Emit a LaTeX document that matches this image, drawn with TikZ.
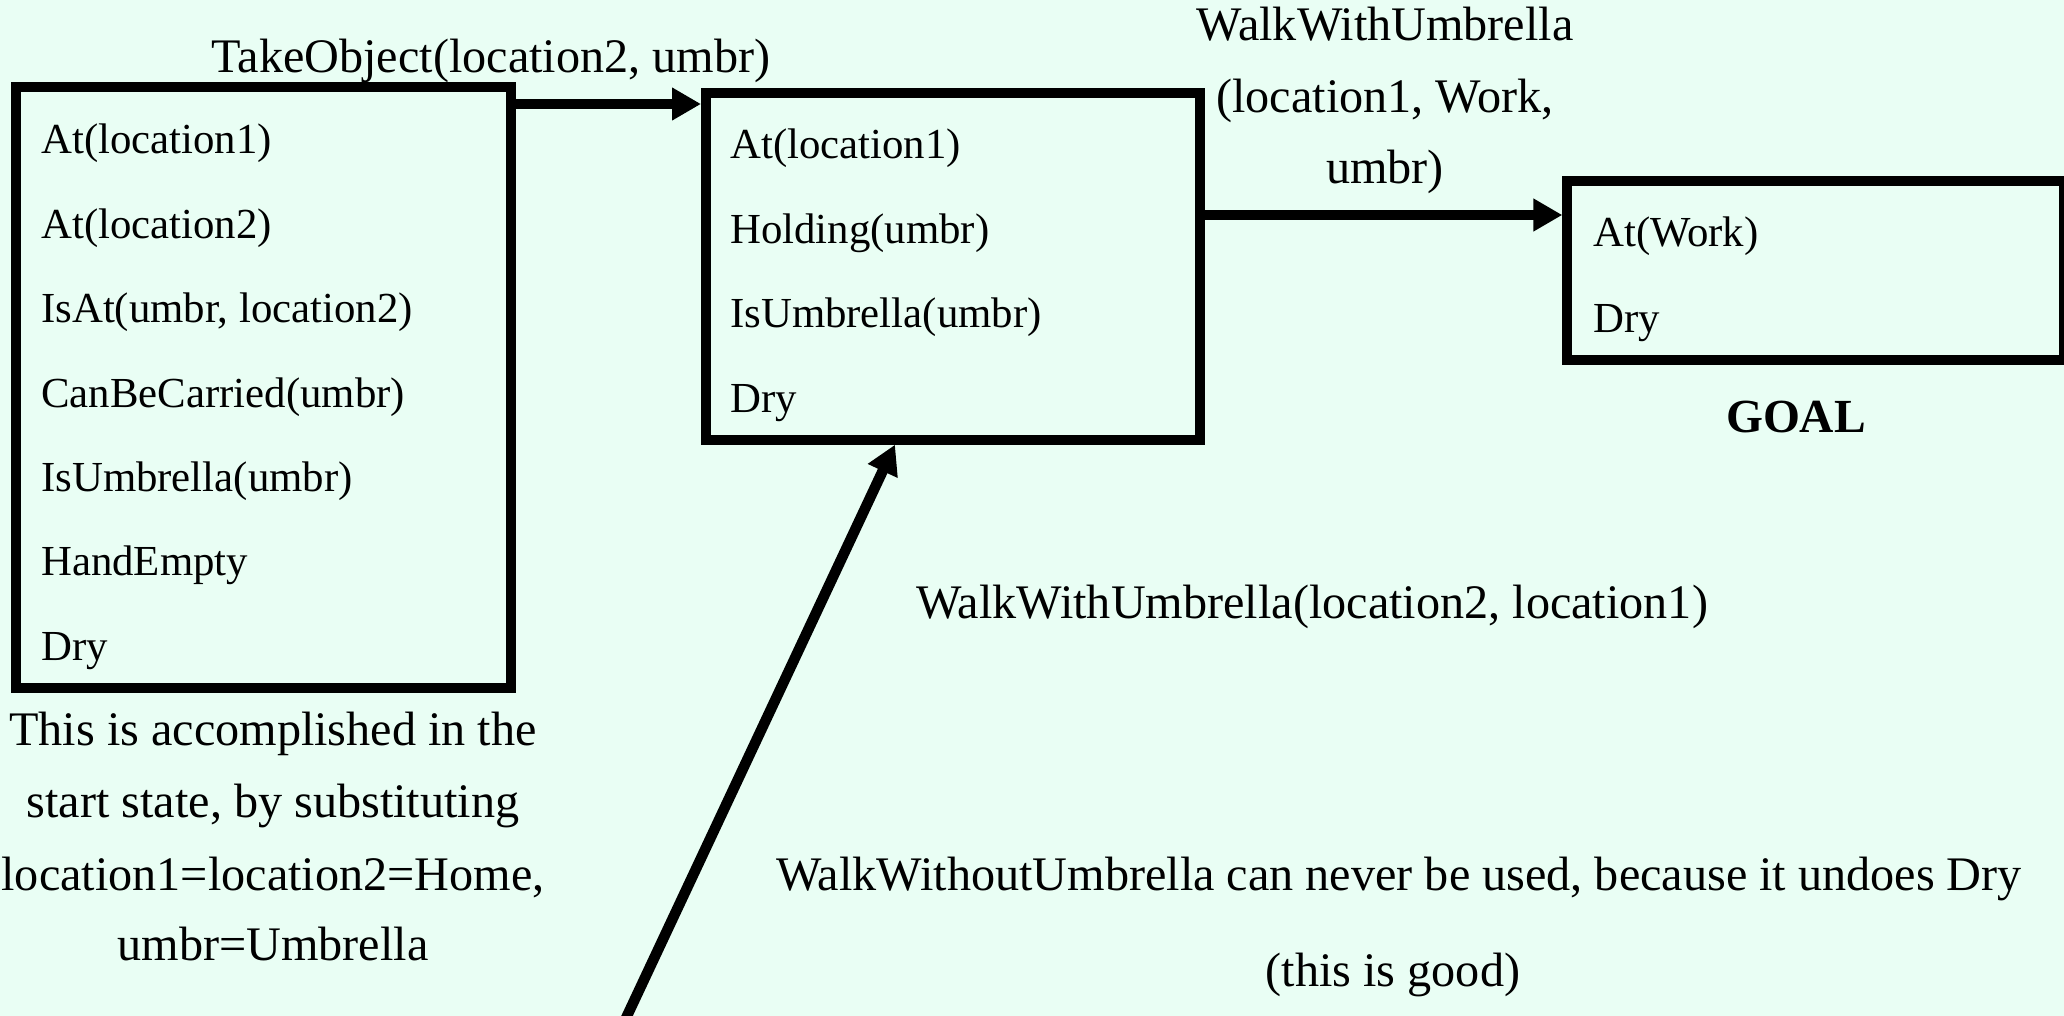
\documentclass[tikz,border=0pt]{standalone}
\usepackage{fontspec}
\setmainfont{Liberation Serif}
\usetikzlibrary{arrows.meta}
\definecolor{bg}{RGB}{233,254,244}
\begin{document}
\begin{tikzpicture}[x=1pt,y=-1pt,
  box/.style={draw=black, line width=10pt, rectangle, inner sep=0pt},
  item/.style={anchor=base west, inner sep=0pt, font=\fontsize{42.8}{50}\selectfont},
  lbl/.style={anchor=base, inner sep=0pt, font=\fontsize{48.2}{56}\selectfont},
  arr/.style={line width=10pt, -{Triangle[length=29pt,width=31pt]}}]
\fill[bg] (0,0) rectangle (2064,1016);
\useasboundingbox (0,0) rectangle (2064,1016);
\clip (0,0) rectangle (2064,1016);

% boxes
\node[box, minimum width=495.3pt, minimum height=600.4pt] (box1) at (263.7,387.5) {};
\node[box, minimum width=494pt, minimum height=347pt] (box2) at (953,266.2) {};
\node[box, minimum width=496.7pt, minimum height=178.4pt] (box3) at (1815.7,270.5) {};

% box 1 contents
\node[item] (b1a) at (41,154) {At(location1)};
\node[item] (b1b) at (41,238.3) {At(location2)};
\node[item] (b1c) at (41,322.6) {IsAt(umbr, location2)};
\node[item] (b1d) at (41,407) {CanBeCarried(umbr)};
\node[item] (b1e) at (41,491.3) {IsUmbrella(umbr)};
\node[item] (b1f) at (41,575.6) {HandEmpty};
\node[item] (b1g) at (41,660) {Dry};

% box 2 contents
\node[item] (b2a) at (730,159) {At(location1)};
\node[item] (b2b) at (730,243.3) {Holding(umbr)};
\node[item] (b2c) at (730,327.6) {IsUmbrella(umbr)};
\node[item] (b2d) at (730,412) {Dry};

% box 3 contents
\node[item] (b3a) at (1593,247) {At(Work)};
\node[item] (b3b) at (1593,332) {Dry};

% labels
\node[lbl] (take) at (491,73) {TakeObject(location2, umbr)};
\node[lbl] (walk1) at (1385,41) {WalkWithUmbrella};
\node[lbl] (walk2) at (1385,113) {(location1, Work,};
\node[lbl] (walk3) at (1385,184) {umbr)};
\node[anchor=base, inner sep=0pt, font=\fontsize{47.5}{56}\selectfont\bfseries] (goal) at (1796,432) {GOAL};
\node[lbl] (walkb) at (1312,618) {WalkWithUmbrella(location2, location1)};
\node[lbl] (note1) at (273,745) {This is accomplished in the};
\node[lbl] (note2) at (273,817) {start state, by substituting};
\node[lbl] (note3) at (273,890) {location1=location2=Home,};
\node[lbl] (note4) at (273,960) {umbr=Umbrella};
\node[lbl] (never1) at (1399,890) {WalkWithoutUmbrella can never be used, because it undoes Dry};
\node[lbl] (never2) at (1393,986) {(this is good)};

% connectors
\coordinate (a1) at (0,104);
\coordinate (a2) at (0,215);
\coordinate (tipx) at (895,0);
\coordinate (diagstart) at (622.3,1026);
\draw[arr] (box1.east |- a1) -- (box2.west |- a1);
\draw[arr] (box2.east |- a2) -- (box3.west |- a2);
\draw[arr, line width=10.5pt] (diagstart) -- (box2.south -| tipx);
\end{tikzpicture}
\end{document}
